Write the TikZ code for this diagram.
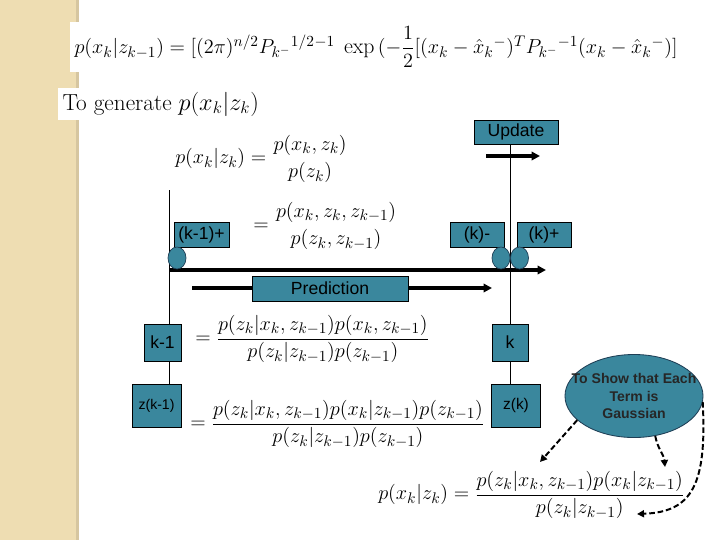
\documentclass[tikz,border=0pt]{standalone}
\usepackage{amsmath}
\usepackage{fontspec}
\setsansfont{Liberation Sans}
\usetikzlibrary{arrows.meta,shapes.geometric}
\definecolor{tealbox}{RGB}{58,135,157}
\definecolor{tealedge}{RGB}{30,62,85}
\definecolor{strip}{RGB}{238,221,178}
\definecolor{stripedge}{RGB}{214,198,160}
\tikzset{
  eq/.style={font=\fontsize{15.5}{18}\selectfont,inner sep=0pt},
  bx/.style={draw,fill=tealbox,inner sep=0pt,font=\sffamily\fontsize{12.5}{14}\selectfont,line width=0.5pt},
  knob/.style={ellipse,draw=tealedge,fill=tealbox,minimum width=0.45cm,minimum height=0.55cm,inner sep=0pt,line width=0.5pt},
  thk/.style={line width=2.6pt,-{Triangle[length=6pt,width=6pt]}},
  vl/.style={line width=0.6pt},
  dar/.style={line width=1.4pt,dash pattern=on 4pt off 2pt,-{Triangle[length=5pt,width=5pt]}}
}
\begin{document}
\begin{tikzpicture}[x=0.025cm,y=-0.025cm]
\useasboundingbox (0,0) rectangle (720,540);
\fill[white] (0,0) rectangle (720,540);
\fill[strip] (0,0) rectangle (76,540);
\fill[stripedge] (76,0) rectangle (79,540);

\node[eq,fill=white,anchor=west,inner sep=3pt] (top) at (70,47) {$p(x_k|z_{k-1}) = [(2\pi)^{n/2}P_{k^-}{}^{1/2}{}^{-1}\;\exp\,(-\dfrac{1}{2}[(x_k-\hat{x}_k{}^-)^T P_{k^-}{}^{-1}(x_k-\hat{x}_k{}^-)]$};
\node[eq,fill=white,anchor=west,inner sep=3pt,font=\fontsize{16.5}{19}\selectfont] (gen) at (58,104) {To generate $p(x_k|z_k)$};

\coordinate (lt) at (169,190);
\coordinate (lb) at (169,384);
\coordinate (rt) at (510,144);
\coordinate (rb) at (510,384);
\draw[vl] (lt) -- (lb);
\draw[vl] (rt) -- (rb);

\coordinate (ta) at (169,270);
\coordinate (tb) at (546,270);
\coordinate (pa) at (192,288);
\coordinate (pb) at (492,288);
\coordinate (ua) at (486,156);
\coordinate (ub) at (540,156);
\draw[thk] (ta) -- (tb);
\draw[thk] (pa) -- (pb);
\draw[thk] (ua) -- (ub);

\node[eq,anchor=west] (f1) at (175,159) {$p(x_k|z_k) = \genfrac{}{}{0pt}{0}{p(x_k,z_k)}{p(z_k)}$};
\node[eq,anchor=west] (f2) at (253,226) {$= \genfrac{}{}{0pt}{0}{p(x_k,z_k,z_{k-1})}{p(z_k,z_{k-1})}$};
\node[eq,anchor=west] (f3) at (195,339) {$= \dfrac{p(z_k|x_k,z_{k-1})p(x_k,z_{k-1})}{p(z_k|z_{k-1})p(z_{k-1})}$};
\node[eq,anchor=west] (f4) at (190,424) {$= \dfrac{p(z_k|x_k,z_{k-1})p(x_k|z_{k-1})p(z_{k-1})}{p(z_k|z_{k-1})p(z_{k-1})}$};
\node[eq,anchor=west] (f5) at (378,495) {$p(x_k|z_k) = \dfrac{p(z_k|x_k,z_{k-1})p(x_k|z_{k-1})}{p(z_k|z_{k-1})}$};

\node[bx,minimum width=2.1cm,minimum height=0.6cm] (upd) at (516,132) {Update};
\node[bx,minimum width=1.375cm,minimum height=0.625cm] (kmp) at (201.5,234.5) {(k-1)+};
\node[bx,minimum width=1.35cm,minimum height=0.625cm] (km) at (477,234.5) {(k)-};
\node[bx,minimum width=1.35cm,minimum height=0.625cm] (kp) at (544,234.5) {(k)+};
\node[knob] (e1) at (177,258) {};
\node[knob] (e2) at (501,258) {};
\node[knob] (e3) at (519.5,258) {};
\node[bx,minimum width=3.9cm,minimum height=0.625cm] (pred) at (330,288.5) {Prediction};
\node[bx,minimum width=0.925cm,minimum height=0.925cm,font=\sffamily\fontsize{12.5}{14}\selectfont] (km1) at (162.5,342.5) {k-1};
\node[bx,minimum width=0.9cm,minimum height=0.925cm,font=\sffamily\fontsize{12.5}{14}\selectfont] (kk) at (510,342.5) {k};
\node[bx,minimum width=1.225cm,minimum height=1.075cm,font=\sffamily\fontsize{10}{12}\selectfont] (zkm1) at (156.5,405.5) {z(k-1)};
\node[bx,minimum width=1.225cm,minimum height=1.075cm,font=\sffamily\fontsize{11}{13}\selectfont] (zk) at (516,405.5) {z(k)};

\node[ellipse,draw=tealedge,fill=tealbox,line width=0.6pt,minimum width=3.45cm,minimum height=2.075cm,inner sep=0pt] (gau) at (634,396) {};
\node[align=center,inner sep=0pt,text=black!85,font=\sffamily\bfseries\fontsize{10}{12.5}\selectfont] (gaut) at (gau.center) {To Show that Each\\Term is\\Gaussian};

\coordinate (d1) at (540,462);
\coordinate (d2) at (665,467);
\coordinate (d3) at (637,514);
\draw[dar] (gau.203) -- (d1);
\draw[dar] (gau.298) to[out=-80,in=95] (d2);
\draw[dar] (gau.355) .. controls (707,485) and (692,512) .. (d3);
\end{tikzpicture}
\end{document}
